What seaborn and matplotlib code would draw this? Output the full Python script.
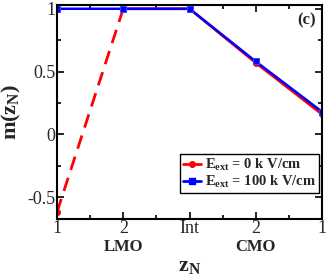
import numpy as np
import pandas as pd
import matplotlib
matplotlib.use("Agg")
import matplotlib.pyplot as plt
import seaborn as sns
from matplotlib.lines import Line2D

# layer positions and labels
positions = [0, 1, 2, 3, 4]
tick_labels = ["1", "2", "Int", "2", "1"]
m_e0 = [-0.62, 1.0, 1.0, 0.57, 0.16]
m_e100 = [1.0, 1.0, 1.0, 0.58, 0.18]

sns.set_style("ticks")
plt.rcParams["font.family"] = ["Liberation Serif", "DejaVu Serif"]
plt.rcParams["mathtext.fontset"] = "custom"
plt.rcParams["mathtext.rm"] = "Liberation Serif"
plt.rcParams["mathtext.it"] = "Liberation Serif"
plt.rcParams["mathtext.bf"] = "Liberation Serif:bold"

fig = plt.figure(figsize=(3.27, 2.74), dpi=100)
ax = fig.add_axes([57/327, 1 - 219/274, 265/327, 214/274])

df0 = pd.DataFrame({"z": positions, "m": m_e0})
df1 = pd.DataFrame({"z": positions, "m": m_e100})

# red: dashed first segment, solid afterwards
sns.lineplot(data=df0.iloc[:2], x="z", y="m", ax=ax, color="red", lw=2,
             linestyle=(0, (5, 3)))
sns.lineplot(data=df0.iloc[1:], x="z", y="m", ax=ax, color="red", lw=2)
ax.plot(df0["z"], df0["m"], ls="none", marker="o", ms=4, color="red",
        markeredgecolor="red")
sns.lineplot(data=df1, x="z", y="m", ax=ax, color="blue", lw=1.8, marker="s",
             markersize=4, markeredgecolor="#3344ff")

ax.set_xlim(0, 4)
ax.set_ylim(-0.675, 1.03)
ax.set_xticks(positions)
ax.set_xticklabels(tick_labels, fontsize=13)
ax.set_xticks([0.5, 1.5, 2.5, 3.5], minor=True)
ax.set_yticks([-0.5, 0, 0.5, 1])
ax.set_yticklabels(["-0.5", "0", "0.5", "1"], fontsize=13)
ax.set_yticks([-0.25, 0.25, 0.75], minor=True)
ax.tick_params(direction="in", which="both", top=True, right=True, width=1.2,
               color="black")
ax.tick_params(which="major", length=5)
ax.tick_params(which="minor", length=3)
ax.tick_params(axis="x", pad=1)
ax.tick_params(axis="y", pad=1)
for s in ax.spines.values():
    s.set_linewidth(1.5)
    s.set_color("black")

ax.set_xlabel("")
ax.set_ylabel(r"$\mathbf{m(z_N)}$", fontsize=16, labelpad=3)
ax.text(0.5, -47/214, r"$\mathbf{z_N}$", transform=ax.transAxes, ha="center",
        va="center", fontsize=16)

for xpos, name in [(1, "LMO"), (3, "CMO")]:
    ax.text(xpos / 4, -28/214, name, transform=ax.transAxes, ha="center",
            va="center", fontsize=12, fontweight="bold")
ax.text(0.975, 0.93, "(c)", transform=ax.transAxes, ha="right", va="center",
        fontsize=12, fontweight="bold")

handles = [
    Line2D([], [], color="red", lw=2, marker="o", ms=4),
    Line2D([], [], color="blue", lw=2, marker="s", ms=4),
]
labels = [r"$\mathbf{E_{ext}}$ = 0 k V/cm", r"$\mathbf{E_{ext}}$ = 100 k V/cm"]
leg = ax.legend(handles, labels, loc="lower right", bbox_to_anchor=(0.99, 0.12),
                frameon=True, fancybox=False, handlelength=1.2,
                handletextpad=0.3, borderpad=0.2, labelspacing=0.1,
                borderaxespad=0, prop={"weight": "bold", "size": 10.5})
leg.get_frame().set_edgecolor("black")
leg.get_frame().set_linewidth(1)
leg.get_frame().set_alpha(1)

fig.savefig("out.png", dpi=100)
